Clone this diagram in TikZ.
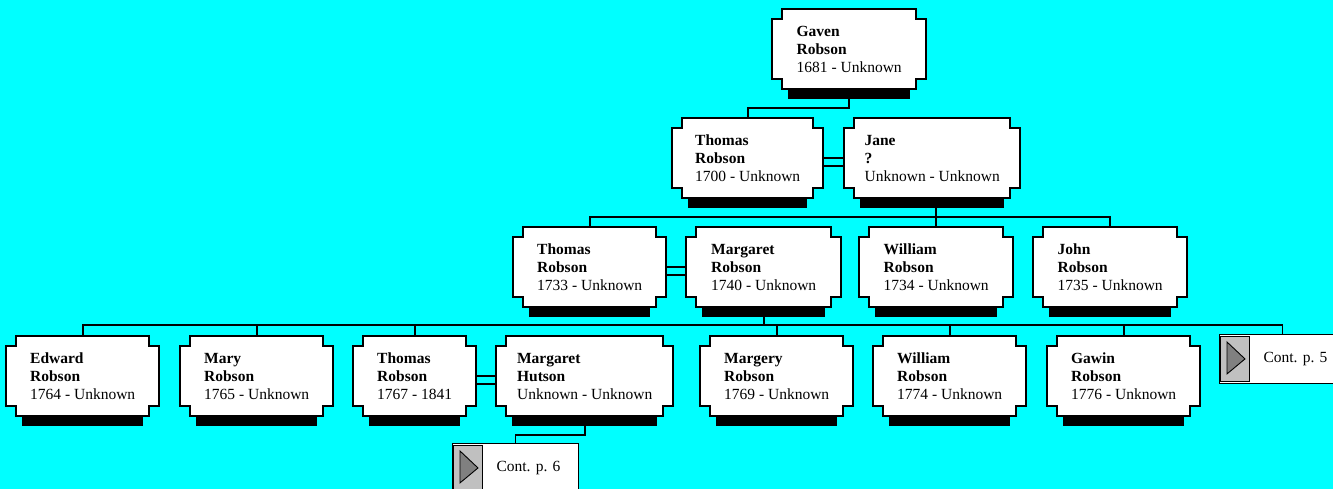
\documentclass[tikz,border=0pt]{standalone}
\usepackage{fontspec}
\setmainfont{Liberation Serif}
\usetikzlibrary{calc,backgrounds}
\definecolor{sky}{HTML}{00FFFF}
\definecolor{tabgray}{HTML}{C0C0C0}
\definecolor{tipgray}{HTML}{808080}

\tikzset{
	card/.style={rectangle, inner sep=0pt, minimum height=80pt, align=left,
		anchor=north west, font=\fontsize{15.5}{18}\selectfont},
	link/.style={line width=1.9pt},
	contbox/.style={draw, fill=white, line width=0.9pt, inner sep=0pt,
		minimum width=126pt, minimum height=49pt, anchor=north west},
	contlabel/.style={xshift=13pt, font=\fontsize{15.5}{18}\selectfont}
}

\begin{document}
\begin{tikzpicture}[x=1pt,y=-1pt]
	\useasboundingbox (0,0) rectangle (1333,489);
	% people
	\foreach \n/\x/\y/\w/\fname/\lname/\dates in {
		gaven/772/9/154/Gaven/Robson/1681 - Unknown,
		thomas1700/672/118/151/Thomas/Robson/1700 - Unknown,
		jane/844/118/176/Jane/?/Unknown - Unknown,
		thomas1733/513/227/153/Thomas/Robson/1733 - Unknown,
		margaret1740/686/227/155/Margaret/Robson/1740 - Unknown,
		william1734/859/227/154/William/Robson/1734 - Unknown,
		john1735/1033/227/154/John/Robson/1735 - Unknown,
		edward/6/336/153/Edward/Robson/1764 - Unknown,
		mary/180/336/153/Mary/Robson/1765 - Unknown,
		thomas1767/353/336/123/Thomas/Robson/1767 - 1841,
		hutson/496/336/177/Margaret/Hutson/Unknown - Unknown,
		margery/700/336/153/Margery/Robson/1769 - Unknown,
		william1774/873/336/153/William/Robson/1774 - Unknown,
		gawin/1047/336/153/Gawin/Robson/1776 - Unknown}
	\node[card, minimum width=\w pt] (\n) at (\x,\y) {\textbf{\fname}\\\textbf{\lname}\\\dates};
	% continuation pages
	\node[contbox, label={[contlabel]center:Cont. p. 5}] (cont5) at (1219,334) {};
	\node[contbox, label={[contlabel]center:Cont. p. 6}] (cont6) at (452,443) {};
	\foreach \c in {cont5, cont6} {
		\filldraw[fill=tabgray, line width=0.9pt] ($(\c.north west)+(1,2)$) rectangle ($(\c.south west)+(30,-2)$);
		\filldraw[fill=tipgray, line width=0.9pt] ($(\c.north west)+(8,8)$) -- ($(\c.south west)+(8,-10)$) -- ($(\c.west)+(26,0)$) -- cycle;
	}
	% card outlines and shadows
	\begin{scope}[on background layer]
		\fill[sky] (0,0) rectangle (1333,489);
		\foreach \n in {gaven, thomas1700, jane, thomas1733, margaret1740, william1734, john1735,
			edward, mary, thomas1767, hutson, margery, william1774, gawin} {
			\fill ($(\n.south west)+(16,0)$) rectangle ($(\n.south east)+(-16,10)$);
			\filldraw[fill=white, line width=1.9pt] ($(\n.north west)+(10,0)$) -- ($(\n.north east)+(-10,0)$)
			-- ++(0,10) -- ++(10,0) -- ($(\n.south east)+(0,-10)$) -- ++(-10,0) -- ++(0,10)
			-- ($(\n.south west)+(10,0)$) -- ++(0,-10) -- ++(-10,0) -- ($(\n.north west)+(0,10)$)
			-- ++(10,0) -- cycle;
		}
	\end{scope}
	% generation 1 to 2
	\draw[link] (gaven.south) -- ++(0,19) -| (thomas1700.north);
	\draw[link] (thomas1700.east) -- (jane.west);
	\draw[link] ($(thomas1700.east)+(0,8)$) -- ($(jane.west)+(0,8)$);
	% generation 2 to 3
	\draw[link] (thomas1733.north) -- ++(0,-10) -| (john1735.north);
	\draw[link] (william1734.north) -- (william1734.north |- jane.south);
	\draw[link] (thomas1733.east) -- (margaret1740.west);
	\draw[link] ($(thomas1733.east)+(0,8)$) -- ($(margaret1740.west)+(0,8)$);
	% generation 3 to 4
	\draw[link] (margaret1740.south) -- ++(0,18);
	\draw[link] (edward.north) -- ++(0,-11) -| (cont5.north);
	\foreach \c in {mary, thomas1767, margery, william1774, gawin}
	\draw[link] (\c.north) -- ++(0,-11);
	\draw[link] (thomas1767.east) -- (hutson.west);
	\draw[link] ($(thomas1767.east)+(0,8)$) -- ($(hutson.west)+(0,8)$);
	\draw[link] (hutson.south) -- ++(0,19) -| (cont6.north);
\end{tikzpicture}
\end{document}
